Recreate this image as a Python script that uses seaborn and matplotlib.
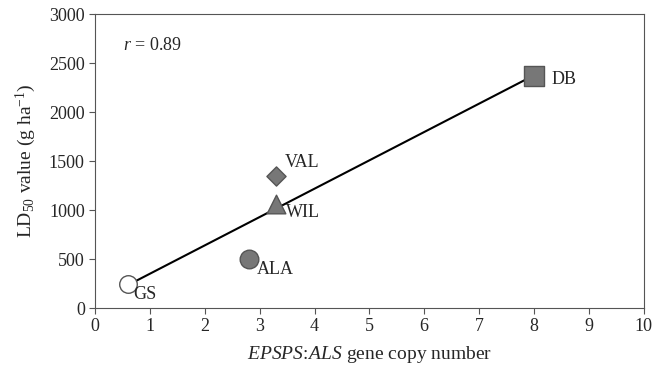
import pandas as pd
import matplotlib
matplotlib.use("Agg")
from matplotlib import pyplot as plt
import seaborn as sns

# data
populations = ["GS", "ALA", "WIL", "VAL", "DB"]
copy_number = [0.6, 2.8, 3.3, 3.3, 8.0]
ld50 = [250, 500, 1060, 1350, 2370]
# regression line end points
fit_x = [0.6, 8.0]
fit_y = [235, 2375]

df = pd.DataFrame({"pop": populations, "copy": copy_number, "ld50": ld50})

sns.set_style("ticks")
plt.rcParams["font.family"] = ["Liberation Serif", "DejaVu Serif"]
plt.rcParams["mathtext.fontset"] = "custom"
plt.rcParams["mathtext.rm"] = "Liberation Serif"
plt.rcParams["mathtext.it"] = "Liberation Serif:italic"

fig, ax = plt.subplots(figsize=(6.52, 3.72), dpi=100)

# fitted line
sns.lineplot(x=fit_x, y=fit_y, color="black", linewidth=1.5, ax=ax)

markers = {"GS": "o", "ALA": "o", "WIL": "^", "VAL": "D", "DB": "s"}
faces = {"GS": "white", "ALA": "#777777", "WIL": "#777777", "VAL": "#777777", "DB": "#777777"}
sizes = {"GS": 160, "ALA": 180, "WIL": 180, "VAL": 95, "DB": 190}
for p in populations:
    sub = df[df["pop"] == p]
    sns.scatterplot(data=sub, x="copy", y="ld50", marker=markers[p], s=sizes[p],
                    color=faces[p], edgecolor="#555555", linewidth=1, ax=ax, zorder=3)

# labels next to points
offsets = {"GS": (0.1, -110), "ALA": (0.15, -110), "WIL": (0.18, -90),
           "VAL": (0.15, 140), "DB": (0.32, -40)}
for p, x, y in zip(populations, copy_number, ld50):
    dx, dy = offsets[p]
    ax.text(x + dx, y + dy, p, fontsize=13, va="center", ha="left")

ax.text(0.5, 2680, "$r$ = 0.89", fontsize=13, va="center")

ax.set_xlim(0, 10)
ax.set_ylim(0, 3000)
ax.set_xticks(range(0, 11))
ax.set_yticks(range(0, 3001, 500))
ax.tick_params(labelsize=13, length=4, color="#555555")
for s in ax.spines.values():
    s.set_color("#555555")
ax.set_xlabel(r"$\mathit{EPSPS\!:\!ALS}$ gene copy number", fontsize=14, labelpad=6)
ax.set_ylabel(r"LD$_{50}$ value (g ha$^{\mathregular{-1}}$)", fontsize=14, labelpad=8)

fig.subplots_adjust(left=0.146, right=0.987, top=0.962, bottom=0.172)
fig.savefig("out.png", dpi=100)
